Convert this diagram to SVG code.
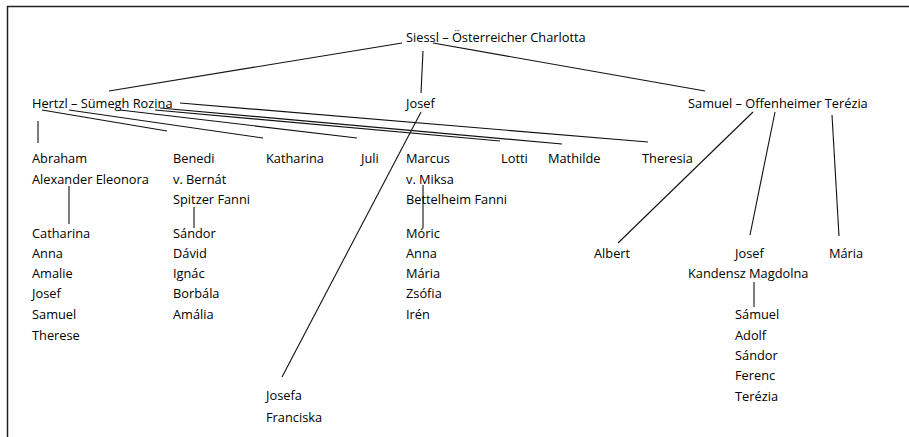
<svg xmlns="http://www.w3.org/2000/svg" width="909" height="437" viewBox="0 0 909 437">
<style>
text{font-family:"Open Sans","Liberation Sans",sans-serif;font-size:12.8px;fill:#000}
.c line{stroke:#111;stroke-width:1.1;fill:none}
.frame{stroke:#222;stroke-width:1.5;fill:none}
</style>
<rect width="909" height="437" fill="#fff"/>
<path class="frame" d="M7.5,437 V6.5 H909"/>
<g class="c" id="connectors">
<line x1="402" y1="43" x2="109" y2="91"/>
<line x1="423" y1="51" x2="421" y2="93"/>
<line x1="433" y1="43" x2="705" y2="91"/>
<line x1="38" y1="121" x2="38" y2="143"/>
<line x1="42" y1="110" x2="167" y2="131"/>
<line x1="69" y1="110" x2="263" y2="138"/>
<line x1="120" y1="110" x2="357" y2="138"/>
<line x1="155" y1="110" x2="500" y2="141"/>
<line x1="160" y1="108" x2="562" y2="144"/>
<line x1="180" y1="103" x2="648" y2="142"/>
<line x1="421" y1="112" x2="282" y2="377"/>
<line x1="753" y1="112" x2="618" y2="243"/>
<line x1="775" y1="112" x2="750" y2="235"/>
<line x1="832" y1="115" x2="839" y2="236"/>
<line x1="69" y1="186" x2="69" y2="224"/>
<line x1="194" y1="207" x2="194" y2="228"/>
<line x1="423" y1="185" x2="423" y2="228"/>
<line x1="754" y1="282" x2="754" y2="307"/>
</g>
<g id="siessl"><text x="406" y="42">Siessl – Österreicher Charlotta</text></g>
<g id="hertzl"><text x="32" y="108">Hertzl – Sümegh Rozina</text></g>
<g id="josef"><text x="406" y="108">Josef</text></g>
<g id="samuel"><text x="688" y="108">Samuel – Offenheimer Terézia</text></g>
<g id="abraham"><text x="32" y="163">Abraham</text><text x="32" y="184">Alexander Eleonora</text></g>
<g id="benedi"><text x="173" y="163">Benedi</text><text x="173" y="184">v. Bernát</text><text x="173" y="204">Spitzer Fanni</text></g>
<g id="katharina"><text x="266" y="163">Katharina</text></g>
<g id="juli"><text x="361" y="163">Juli</text></g>
<g id="marcus"><text x="406" y="163">Marcus</text><text x="406" y="184">v. Miksa</text><text x="406" y="204">Bettelheim Fanni</text></g>
<g id="lotti"><text x="501" y="163">Lotti</text></g>
<g id="mathilde"><text x="548" y="163">Mathilde</text></g>
<g id="theresia"><text x="642" y="163">Theresia</text></g>
<g id="abraham-children"><text x="32" y="238">Catharina</text><text x="32" y="258">Anna</text><text x="32" y="278">Amalie</text><text x="32" y="298">Josef</text><text x="32" y="319">Samuel</text><text x="32" y="340">Therese</text></g>
<g id="benedi-children"><text x="173" y="238">Sándor</text><text x="173" y="258">Dávid</text><text x="173" y="278">Ignác</text><text x="173" y="298">Borbála</text><text x="173" y="319">Amália</text></g>
<g id="marcus-children"><text x="406" y="238">Móric</text><text x="406" y="258">Anna</text><text x="406" y="278">Mária</text><text x="406" y="298">Zsófia</text><text x="406" y="319">Irén</text></g>
<g id="josefa"><text x="266" y="400">Josefa</text><text x="266" y="422">Franciska</text></g>
<g id="albert"><text x="594" y="258">Albert</text></g>
<g id="josef2"><text x="735" y="258">Josef</text><text x="688" y="278">Kandensz Magdolna</text></g>
<g id="maria"><text x="829" y="258">Mária</text></g>
<g id="josef2-children"><text x="735" y="319">Sámuel</text><text x="735" y="340">Adolf</text><text x="735" y="360">Sándor</text><text x="735" y="380">Ferenc</text><text x="735" y="401">Terézia</text></g>
</svg>
